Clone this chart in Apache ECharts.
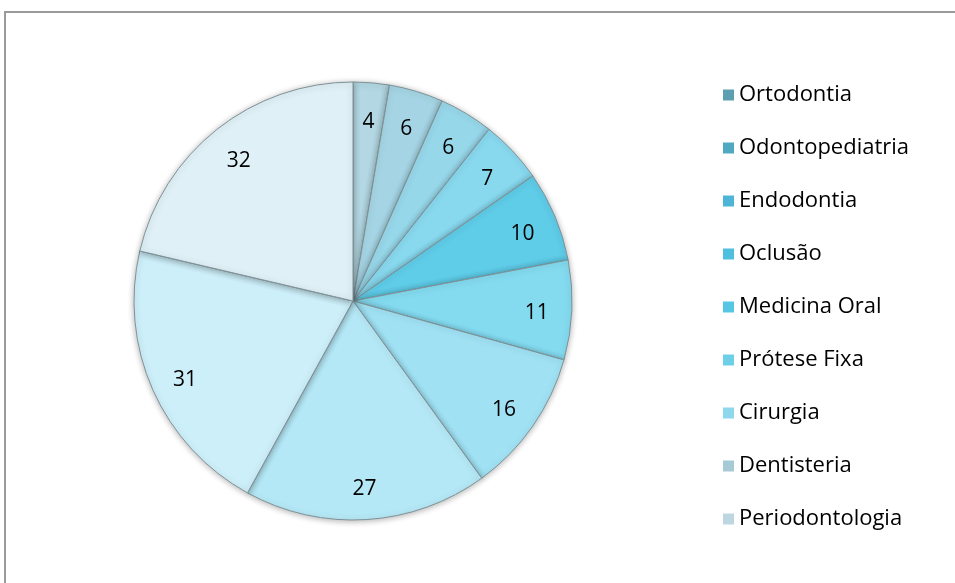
<!DOCTYPE html>
<html>
<head>
<meta charset="utf-8">
<script src="https://cdn.jsdelivr.net/npm/echarts@6/dist/echarts.min.js"></script>
<style>
  html, body { margin: 0; padding: 0; background: #fff; }
  #frame {
    position: absolute; left: 4px; top: 11px;
    width: 1000px; height: 700px;
    border-left: 2px solid #9a9a9a; border-top: 2px solid #9a9a9a;
  }
  #myChart { position: absolute; left: 0; top: 0; width: 955px; height: 583px; }
</style>
</head>
<body>
<div id="frame"></div>
<div id="myChart"></div>
<script>
// legenda (a 10a fatia não aparece na legenda original)
var categories = ['Ortodontia', 'Odontopediatria', 'Endodontia', 'Oclusão', 'Medicina Oral',
  'Prótese Fixa', 'Cirurgia', 'Dentisteria', 'Periodontologia'];
var values = [4, 6, 6, 7, 10, 11, 16, 27, 31, 32];

// cores das fatias e dos ícones da legenda
var sliceColors = ['#b3d8e3', '#a5d5e5', '#97d7ea', '#88d8ee', '#5fcce8',
  '#84dbf0', '#a0e2f4', '#b5e8f6', '#cdeff9', '#dff1f7'];
var legendColors = ['#5b9fb1', '#4fa9c1', '#4db6d6', '#4fbfdf', '#55c6e4',
  '#6ecfe9', '#8fd7ec', '#a6cad6', '#bdd6e0'];

var pieData = values.map(function (v, i) {
  return { name: categories[i] || '', value: v, itemStyle: { color: sliceColors[i] } };
});

var myChart = echarts.init(document.getElementById('myChart'));
var option = {
  animation: false,
  legend: {
    orient: 'vertical',
    left: 718,
    top: 78,
    itemWidth: 11,
    itemHeight: 11,
    itemGap: 29,
    icon: 'rect',
    selectedMode: false,
    itemStyle: { borderWidth: 0 },
    textStyle: { fontFamily: 'Open Sans', fontSize: 22, lineHeight: 24, color: '#000' },
    data: categories.map(function (c, i) {
      return { name: c, itemStyle: { color: legendColors[i], borderWidth: 0 } };
    })
  },
  series: [
    {
      type: 'pie',
      center: [353, 301],
      radius: [0, 219],
      startAngle: 90,
      clockwise: true,
      silent: true,
      label: { show: false },
      labelLine: { show: false },
      itemStyle: {
        borderColor: '#7f9297',
        borderWidth: 1,
        shadowBlur: 6,
        shadowColor: 'rgba(0,0,0,0.3)',
        shadowOffsetY: 1
      },
      data: pieData
    },
    {
      // só rótulos, posicionados perto da borda como no original
      type: 'pie',
      center: [353, 305],
      radius: [150, 212],
      startAngle: 90,
      clockwise: true,
      silent: true,
      itemStyle: { color: 'rgba(0,0,0,0)' },
      label: {
        show: true,
        position: 'inside',
        formatter: '{c}',
        fontFamily: 'Open Sans',
        fontSize: 21,
        color: '#000'
      },
      labelLine: { show: false },
      data: values.map(function (v, i) { return { name: 'l' + i, value: v }; })
    }
  ]
};
myChart.setOption(option);
</script>
</body>
</html>
